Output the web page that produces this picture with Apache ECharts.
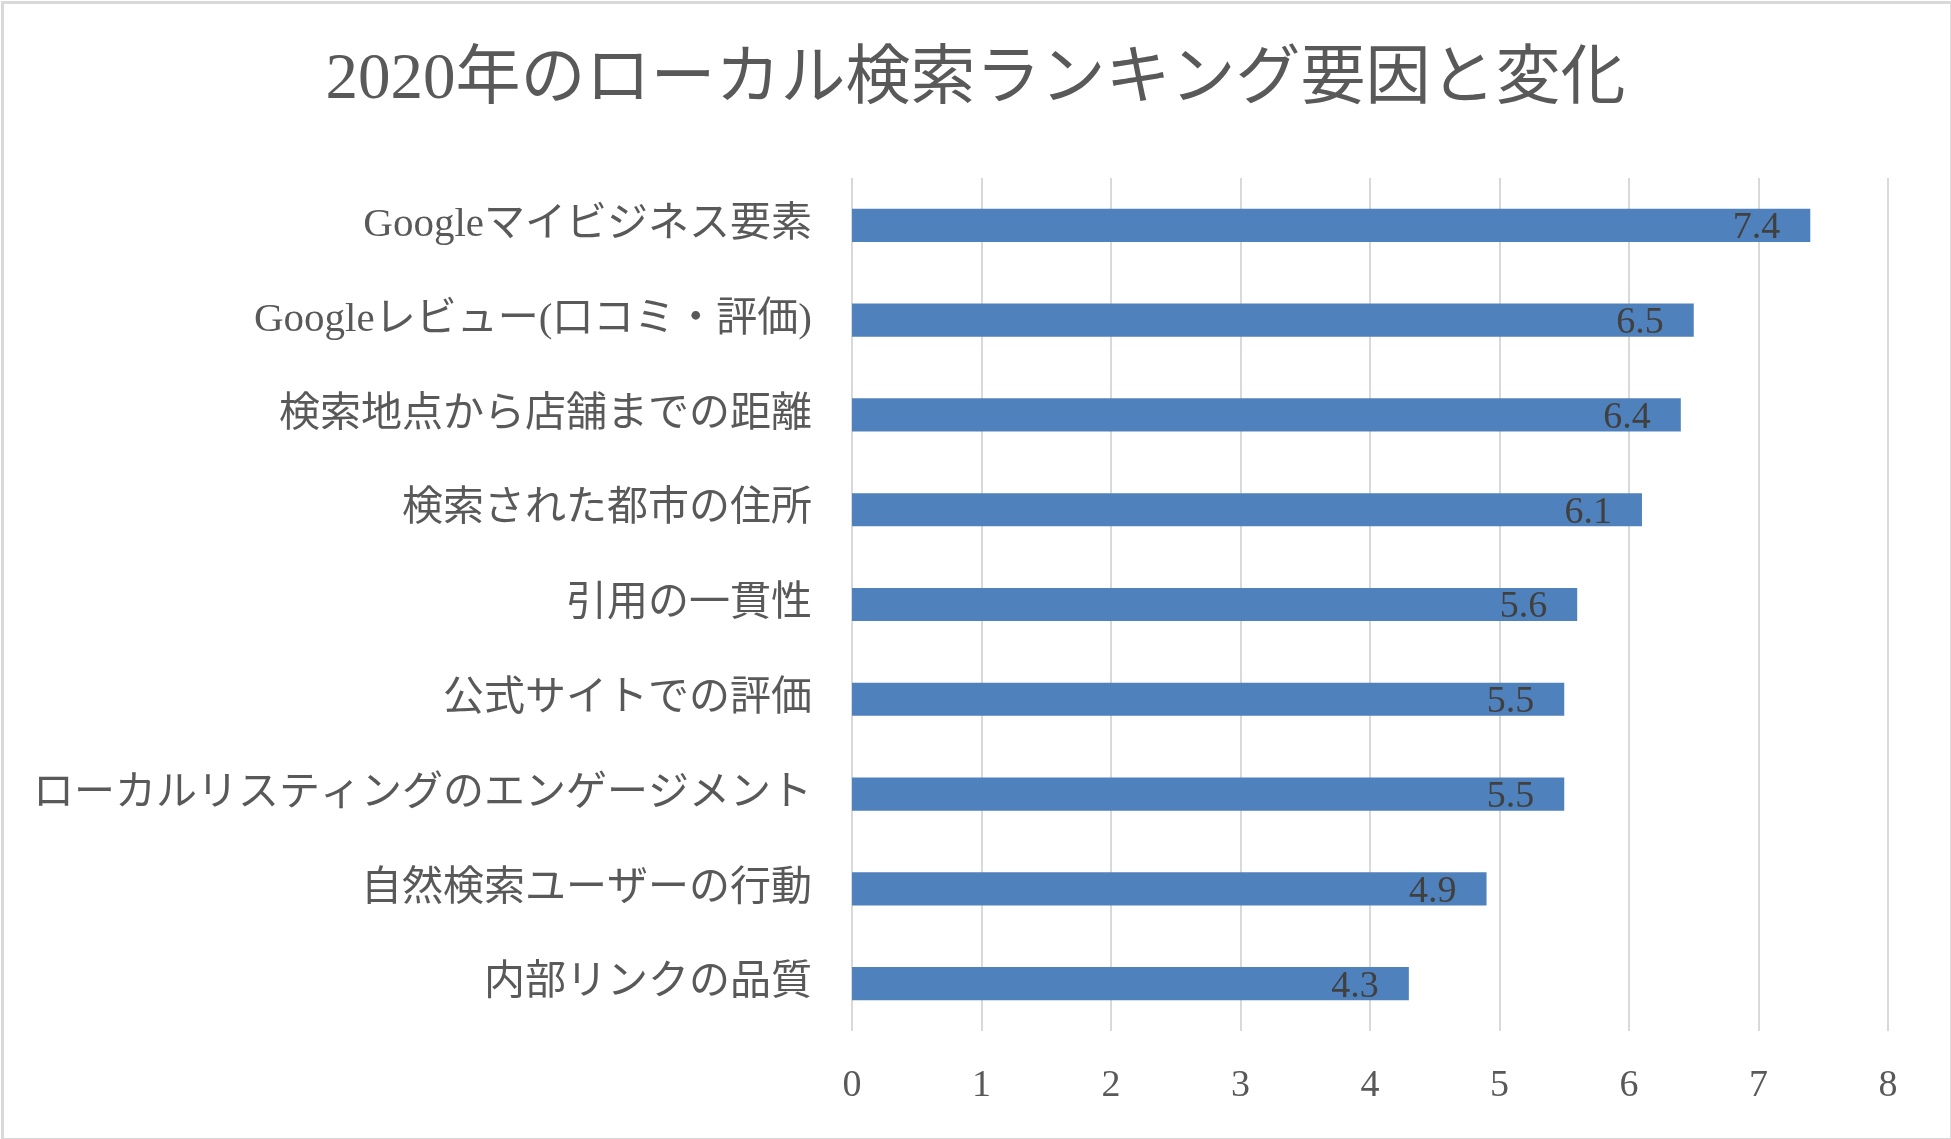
<!DOCTYPE html>
<html>
<head>
<meta charset="utf-8">
<title>2020年のローカル検索ランキング要因と変化</title>
<script src="https://cdn.jsdelivr.net/npm/echarts@6/dist/echarts.min.js"></script>
<style>
    html, body { margin: 0; padding: 0; background: #fff; }
    #chart { width: 1951px; height: 1139px; }
</style>
</head>
<body>
<div id="chart"></div>
<script>
// 要因（上から順）
var factorNames = [
    'Googleマイビジネス要素',
    'Googleレビュー(口コミ・評価)',
    '検索地点から店舗までの距離',
    '検索された都市の住所',
    '引用の一貫性',
    '公式サイトでの評価',
    'ローカルリスティングのエンゲージメント',
    '自然検索ユーザーの行動',
    '内部リンクの品質'
];
// 各要因の値
var factorValues = [7.4, 6.5, 6.4, 6.1, 5.6, 5.5, 5.5, 4.9, 4.3];
// 横軸の目盛
var axisMin = 0;
var axisMax = 8;
var axisStep = 1;

var serifFont = '"Liberation Serif", "Noto Sans CJK JP", serif';

var chart = echarts.init(document.getElementById('chart'));

var option = {
    backgroundColor: '#ffffff',
    animation: false,
    title: {
        text: '2020年のローカル検索ランキング要因と変化',
        left: 'center',
        top: 43,
        textStyle: {
            color: '#595959',
            fontSize: 65,
            fontWeight: 'normal',
            fontFamily: serifFont
        }
    },
    //外枠
    graphic: [{
        type: 'rect',
        left: 0,
        top: 0,
        shape: { x: 1, y: 1, width: 1949, height: 1137 },
        style: { fill: 'none', stroke: '#d9d9d9', lineWidth: 3 },
        silent: true
    }],
    grid: {
        left: 852,
        right: 63,
        top: 178,
        bottom: 108,
        containLabel: false
    },
    xAxis: {
        type: 'value',
        min: axisMin,
        max: axisMax,
        interval: axisStep,
        axisLine: { show: false },
        axisTick: { show: false },
        splitLine: {
            show: true,
            lineStyle: { color: '#d9d9d9', width: 2 }
        },
        axisLabel: {
            margin: 36,
            color: '#595959',
            fontSize: 38,
            fontFamily: serifFont
        }
    },
    yAxis: {
        type: 'category',
        inverse: true,
        data: factorNames,
        axisLine: { show: false },
        axisTick: { show: false },
        axisLabel: {
            margin: 40,
            color: '#595959',
            fontSize: 41,
            fontFamily: serifFont
        }
    },
    series: [{
        type: 'bar',
        data: factorValues,
        barWidth: '35%',
        itemStyle: { color: '#4f81bd' },
        label: {
            show: true,
            position: 'insideRight',
            offset: [-25, 3],
            color: '#404040',
            fontSize: 38,
            fontFamily: serifFont
        }
    }]
};

chart.setOption(option);
</script>
</body>
</html>
